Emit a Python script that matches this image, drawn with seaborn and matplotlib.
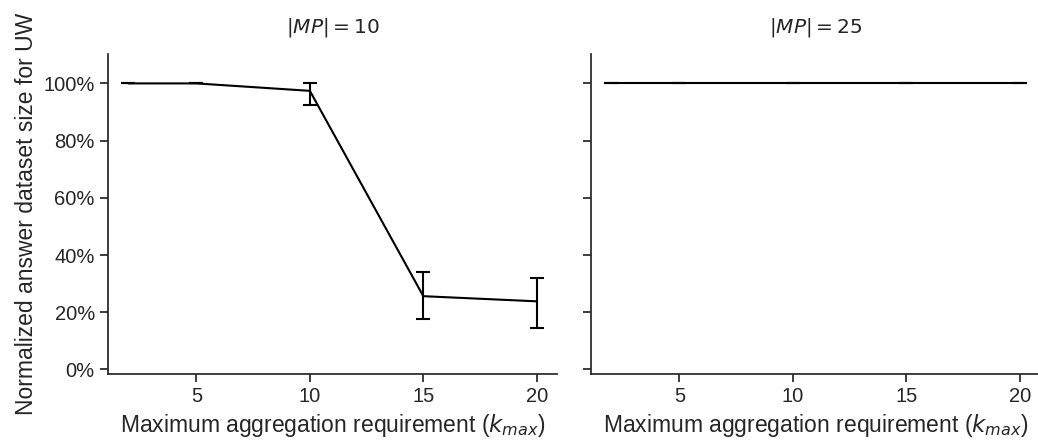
import seaborn as sns
import numpy as np
import pandas as pd
import matplotlib.pyplot as plt
from matplotlib.ticker import PercentFormatter

k_max = [2, 5, 10, 15, 20]
panels = ["$|MP| = 10$", "$|MP| = 25$"]

# normalized answer dataset size (%), mean and error bar bounds
mp10_mean = [100, 100, 97.4, 25.6, 23.8]
mp10_low = [100, 100, 92.6, 17.5, 14.5]
mp10_high = [100, 100, 100, 34.0, 32.0]

mp25_mean = [100, 100, 100, 100, 100]
mp25_low = [100, 100, 100, 100, 100]
mp25_high = [100, 100, 100, 100, 100]

y_ticks = [0, 20, 40, 60, 80, 100]

sns.set_theme(style='ticks', context='notebook')
plt.rcParams['font.family'] = ['Liberation Sans', 'DejaVu Sans']
plt.rcParams['mathtext.fontset'] = 'dejavusans'

frames = []
for name, m, lo, hi in [(panels[0], mp10_mean, mp10_low, mp10_high),
                        (panels[1], mp25_mean, mp25_low, mp25_high)]:
    frames.append(pd.DataFrame({'k': k_max, 'size': m, 'low': lo, 'high': hi, 'panel': name}))
df = pd.concat(frames, ignore_index=True)

fig, axs = plt.subplots(ncols=2, figsize=(10.38, 4.41), dpi=100, sharey=True)
fig.subplots_adjust(left=0.104, right=1.002, bottom=0.152, top=0.877, wspace=0.075)

for i, name in enumerate(panels):
    ax = axs[i]
    sub = df[df['panel'] == name]
    sns.lineplot(data=sub, x='k', y='size', color='black', linewidth=1.5, errorbar=None, ax=ax)
    yerr = np.vstack([sub['size'] - sub['low'], sub['high'] - sub['size']])
    ax.errorbar(sub['k'], sub['size'], yerr=yerr, fmt='none', ecolor='black',
                elinewidth=1.5, capsize=4.7, capthick=1.5)
    ax.set_title(name, fontsize=14.5, pad=16)
    ax.set_xlabel('Maximum aggregation requirement ($k_{max}$)', fontsize=16.5)
    ax.set_ylabel('')
    ax.set_xticks([5, 10, 15, 20])
    ax.set_yticks(y_ticks)
    ax.set_ylim(-1.6, 110.2)
    ax.yaxis.set_major_formatter(PercentFormatter(100, decimals=0))
    ax.tick_params(labelsize=14.5)

axs[0].set_ylabel('Normalized answer dataset size for UW', fontsize=16.5)
sns.despine(fig=fig)

fig.savefig('out.png', dpi=100)
